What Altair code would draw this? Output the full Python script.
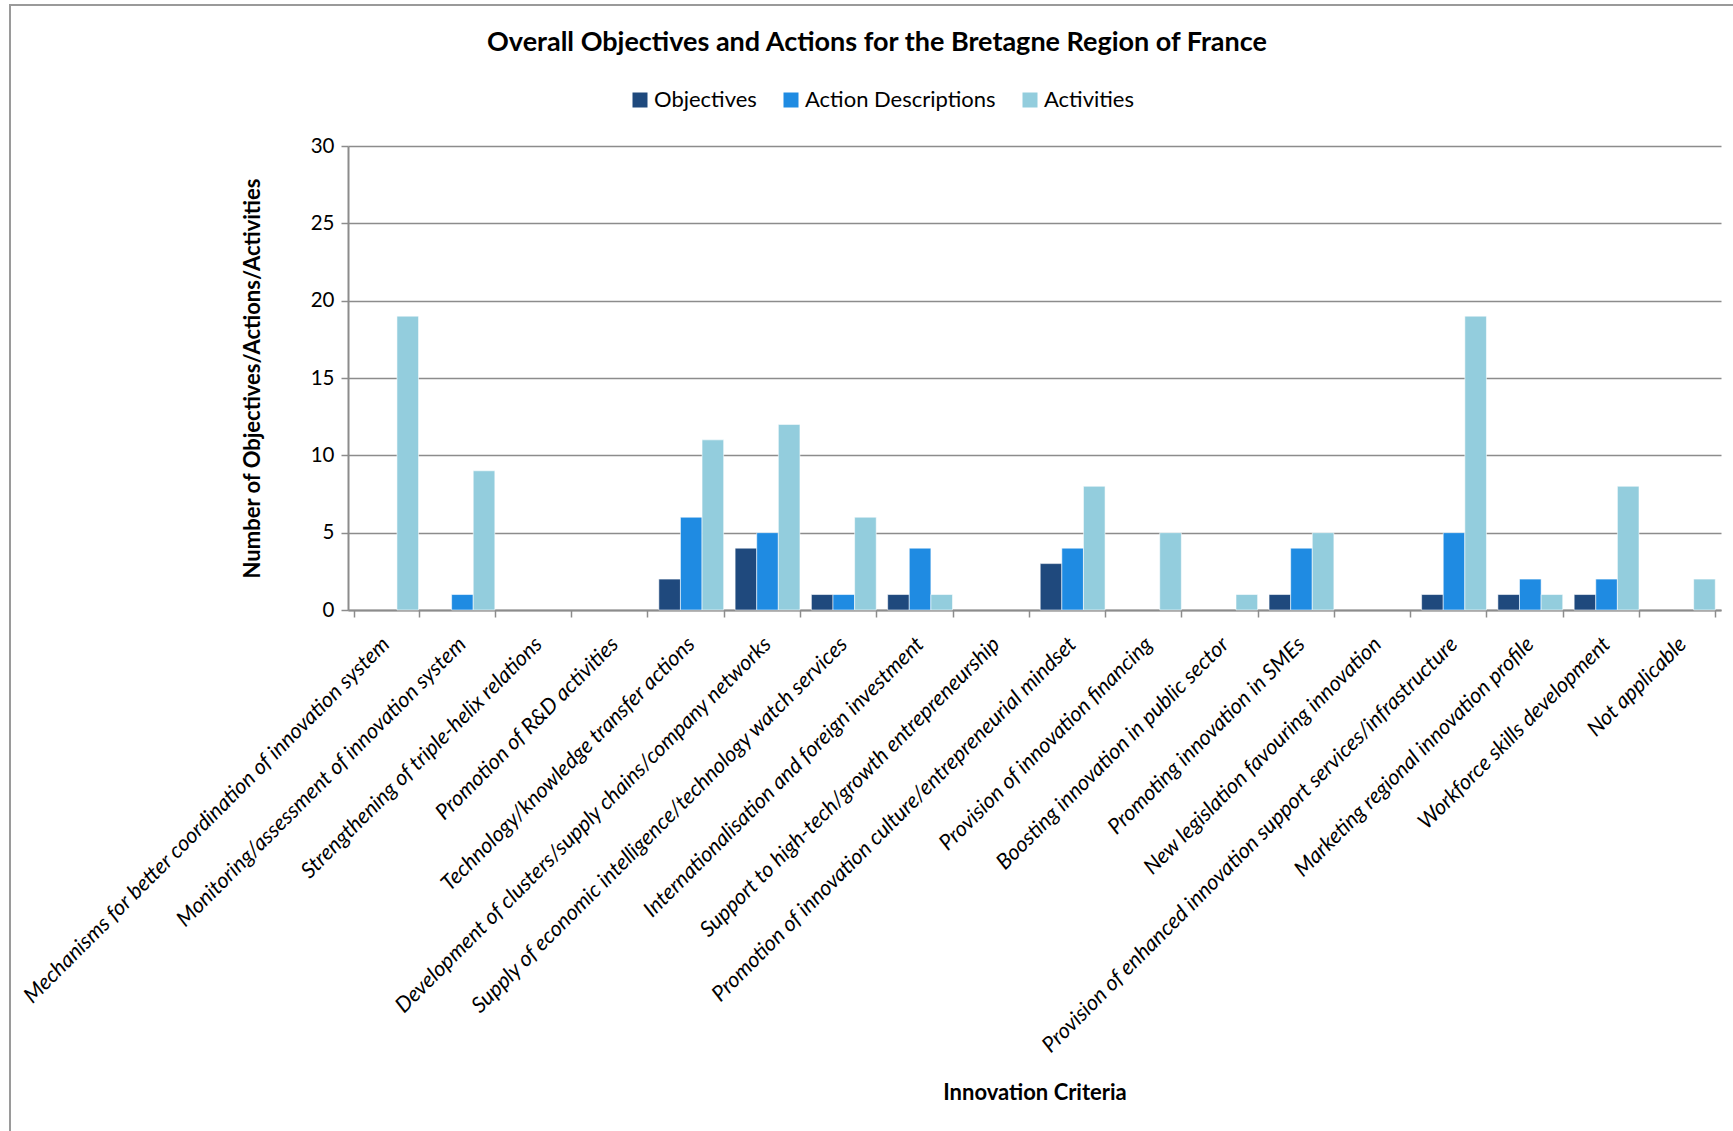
import altair as alt
import pandas as pd

# Innovation criteria (x categories)
criteria = [
    "Mechanisms for better coordination of innovation system",
    "Monitoring/assessment of innovation system",
    "Strengthening of triple-helix relations",
    "Promotion of R&D activities",
    "Technology/knowledge transfer actions",
    "Development of clusters/supply chains/company networks",
    "Supply of economic intelligence/technology watch services",
    "Internationalisation and foreign investment",
    "Support to high-tech/growth entrepreneurship",
    "Promotion of innovation culture/entrepreneurial  mindset",
    "Provision of innovation financing",
    "Boosting innovation in public sector",
    "Promoting innovation in SMEs",
    "New legislation favouring innovation",
    "Provision of enhanced innovation support services/infrastructure",
    "Marketing regional innovation profile",
    "Workforce skills development",
    "Not applicable",
]

series = ["Objectives", "Action Descriptions", "Activities"]
colors = ["#1F497D", "#1F8BE2", "#93CDDD"]

objectives = [0, 0, 0, 0, 2, 4, 1, 1, 0, 3, 0, 0, 1, 0, 1, 1, 1, 0]
action_descriptions = [0, 1, 0, 0, 6, 5, 1, 4, 0, 4, 0, 0, 4, 0, 5, 2, 2, 0]
activities = [19, 9, 0, 0, 11, 12, 6, 1, 0, 8, 5, 1, 5, 0, 19, 1, 8, 2]

y_ticks = [0, 5, 10, 15, 20, 25, 30]

rows = []
for name, values in zip(series, [objectives, action_descriptions, activities]):
    for c, v in zip(criteria, values):
        rows.append({"Criteria": c, "Series": name, "Count": v})
df = pd.DataFrame(rows)

FONT = "Lato"
GREY = "#8C8C8C"
PLOT_W, PLOT_H = 1373, 464
LEFT, TOP = 348, 146

bars = (
    alt.Chart(df)
    .transform_filter("datum.Count > 0")
    .mark_bar(stroke="#FFFFFF", strokeWidth=0.8, strokeOpacity=0.7)
    .encode(
        x=alt.X(
            "Criteria:N",
            sort=criteria,
            scale=alt.Scale(domain=criteria, paddingInner=0.15, paddingOuter=0.075),
            axis=alt.Axis(
                title="Innovation Criteria",
                titleFont=FONT,
                titleFontSize=22,
                titleFontWeight="bold",
                titleColor="#000000",
                titleX=PLOT_W / 2,
                titleY=482,
                titleAlign="center",
                titleBaseline="middle",
                labelFont=FONT,
                labelFontSize=21.6,
                labelFontStyle="italic",
                labelColor="#000000",
                labelAngle=315,
                labelAlign="right",
                labelBaseline="middle",
                labelPadding=24,
                labelLimit=2000,
                labelOverlap=False,
                tickBand="extent",
                tickSize=7,
                tickColor=GREY,
                tickWidth=1.5,
                domainColor=GREY,
                domainWidth=2,
                grid=False,
            ),
        ),
        xOffset=alt.XOffset(
            "Series:N",
            sort=series,
            scale=alt.Scale(domain=series, paddingInner=0, paddingOuter=0),
        ),
        y=alt.Y(
            "Count:Q",
            scale=alt.Scale(domain=[0, 30], nice=False),
            axis=alt.Axis(
                values=y_ticks,
                title="Number of Objectives/Actions/Activities",
                titleFont=FONT,
                titleFontSize=22,
                titleFontWeight="bold",
                titleColor="#000000",
                titleX=-96,
                titleY=PLOT_H / 2,
                titleAlign="center",
                titleBaseline="middle",
                labelFont=FONT,
                labelFontSize=20.5,
                labelColor="#000000",
                labelPadding=7,
                tickSize=7,
                tickColor=GREY,
                tickWidth=1.5,
                domainColor=GREY,
                domainWidth=2,
                gridColor=GREY,
                gridWidth=1.5,
            ),
        ),
        color=alt.Color(
            "Series:N",
            sort=series,
            scale=alt.Scale(domain=series, range=colors),
            legend=alt.Legend(
                title=None,
                orient="none",
                direction="horizontal",
                legendX=281,
                legendY=-57,
                padding=0,
                symbolType="square",
                symbolSize=225,
                symbolStrokeWidth=0,
                labelFont=FONT,
                labelFontSize=22,
                labelColor="#000000",
                labelLimit=1000,
                labelOffset=3,
                columnPadding=23,
            ),
        ),
    )
)

# outer chart-area border
frame = (
    alt.Chart(alt.Data(values=[{}]))
    .mark_rect(fill=None, stroke="#9A9A9A", strokeWidth=2)
    .encode(
        x=alt.value(10 - LEFT),
        x2=alt.value(1800 - LEFT),
        y=alt.value(5 - TOP),
        y2=alt.value(1200 - TOP),
    )
)

chart = (
    alt.layer(frame, bars)
    .properties(
        width=PLOT_W,
        height=PLOT_H,
        autosize=alt.AutoSizeParams(type="none"),
        padding={"left": LEFT, "top": TOP, "right": 1733 - LEFT - PLOT_W, "bottom": 1131 - TOP - PLOT_H},
        background="#FFFFFF",
        title=alt.TitleParams(
            text="Overall Objectives and Actions for the Bretagne Region of France",
            font=FONT,
            fontSize=27,
            fontWeight="bold",
            color="#000000",
            anchor="start",
            frame="group",
            align="center",
            baseline="middle",
            dx=529,
            offset=-66,
        ),
    )
    .configure_view(stroke=None)
)

chart.save("out.html", embed_options={"renderer": "svg", "actions": False})
